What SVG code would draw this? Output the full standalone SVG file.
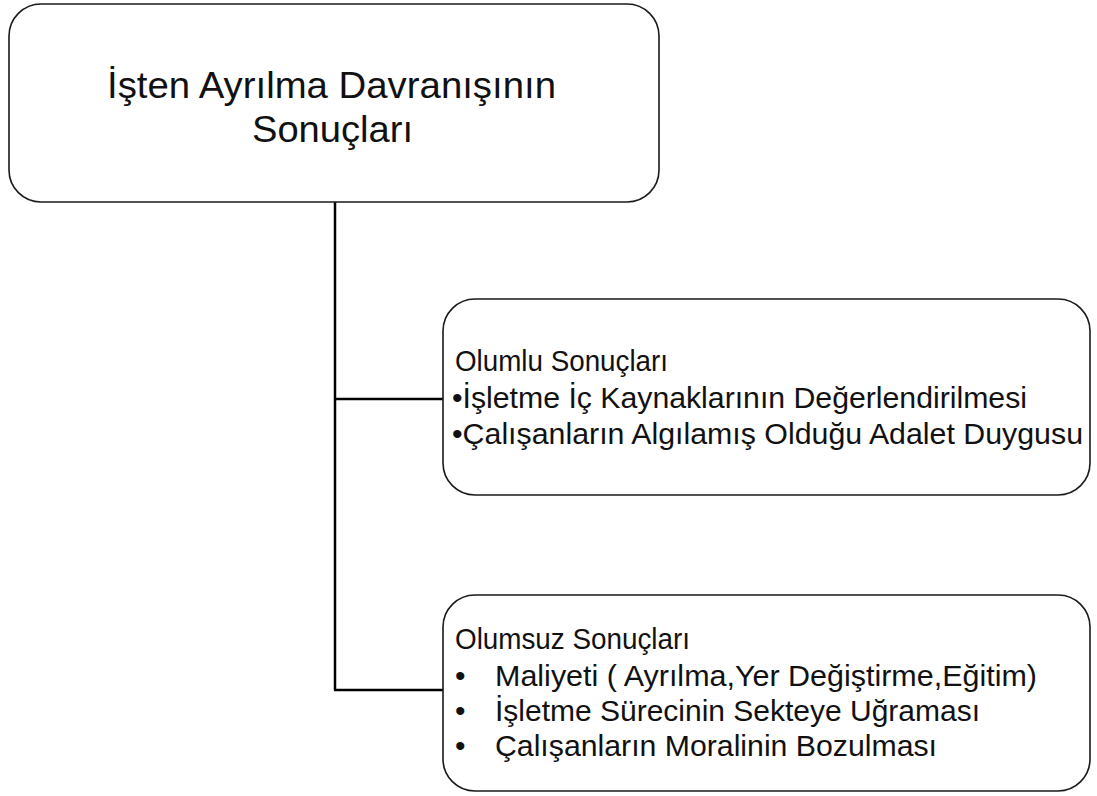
<svg xmlns="http://www.w3.org/2000/svg" width="1097" height="796" viewBox="0 0 1097 796">
  <style>
    .box { fill: #ffffff; stroke: #1a1a1a; stroke-width: 1.6; }
    .link { fill: none; stroke: #000000; stroke-width: 2.5; }
    .title { font-family: "Liberation Sans", Arial, sans-serif; font-size: 37px; fill: #111111; }
    .item { font-family: "Liberation Sans", Arial, sans-serif; font-size: 30px; fill: #111111; }
  </style>
  <rect width="1097" height="796" fill="#ffffff"/>

  <g id="connectors">
    <path class="link" d="M335,202 V690"/>
    <path class="link" d="M335,399 H443"/>
    <path class="link" d="M334,690 H443" stroke-width="3.5"/>
  </g>

  <g id="root">
    <rect class="box" x="9" y="4" width="650" height="198" rx="32" ry="32"/>
    <text class="title" x="107" y="98" textLength="449" lengthAdjust="spacingAndGlyphs">İşten Ayrılma Davranışının</text>
    <text class="title" x="252" y="142" textLength="161" lengthAdjust="spacingAndGlyphs">Sonuçları</text>
  </g>

  <g id="positive">
    <rect class="box" x="443" y="299" width="647" height="196" rx="32" ry="32"/>
    <text class="item" x="455" y="371" textLength="213" lengthAdjust="spacingAndGlyphs">Olumlu Sonuçları</text>
    <text class="item" x="452" y="408" textLength="575" lengthAdjust="spacingAndGlyphs">•İşletme İç Kaynaklarının Değerlendirilmesi</text>
    <text class="item" x="452" y="444" textLength="631" lengthAdjust="spacingAndGlyphs">•Çalışanların Algılamış Olduğu Adalet Duygusu</text>
  </g>

  <g id="negative">
    <rect class="box" x="443" y="595" width="647" height="196" rx="32" ry="32"/>
    <text class="item" x="455" y="649" textLength="235" lengthAdjust="spacingAndGlyphs">Olumsuz Sonuçları</text>
    <text class="item" x="455" y="686">•</text>
    <text class="item" x="495" y="686" textLength="542" lengthAdjust="spacingAndGlyphs">Maliyeti ( Ayrılma,Yer Değiştirme,Eğitim)</text>
    <text class="item" x="455" y="721">•</text>
    <text class="item" x="495" y="721" textLength="485" lengthAdjust="spacingAndGlyphs">İşletme Sürecinin Sekteye Uğraması</text>
    <text class="item" x="455" y="756">•</text>
    <text class="item" x="495" y="756" textLength="442" lengthAdjust="spacingAndGlyphs">Çalışanların Moralinin Bozulması</text>
  </g>
</svg>
